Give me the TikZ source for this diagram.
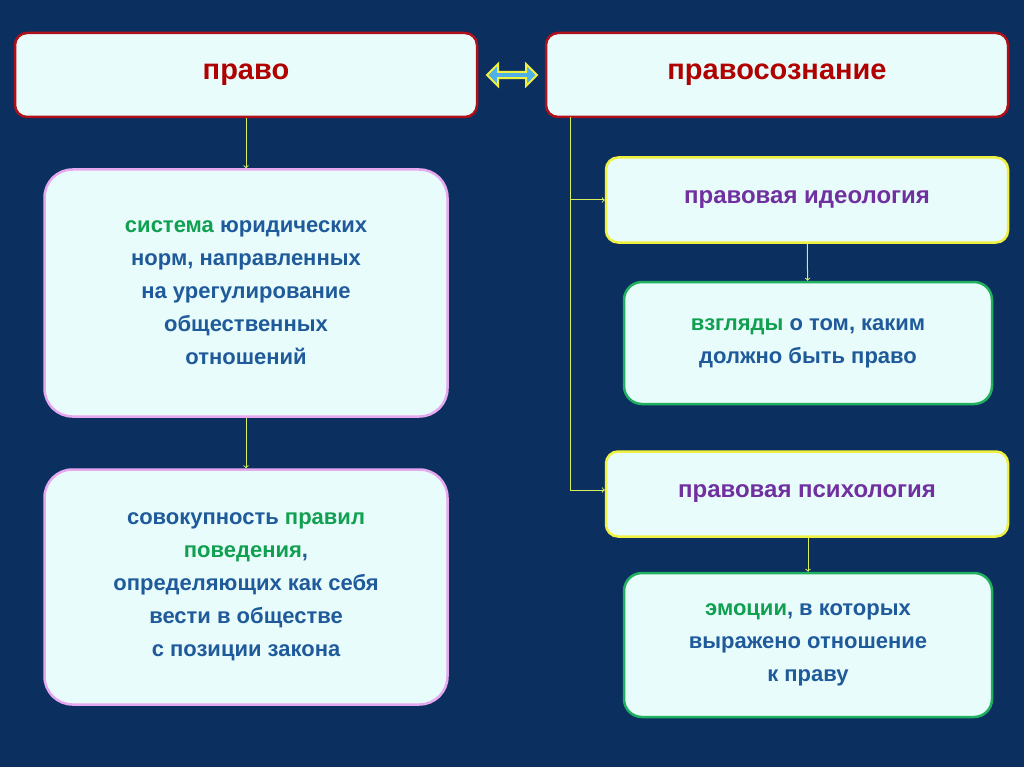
\documentclass[tikz,border=0pt]{standalone}
\usepackage{fontspec}
\setmainfont{Liberation Sans}
\usetikzlibrary{shapes.arrows,positioning}
\definecolor{bg}{HTML}{0B2F5F}
\definecolor{boxfill}{HTML}{E8FCFC}
\definecolor{darkred}{HTML}{B0101A}
\definecolor{titlered}{HTML}{B00000}
\definecolor{pinkline}{HTML}{E6A8EE}
\definecolor{yel}{HTML}{F0F040}
\definecolor{grn}{HTML}{20B060}
\definecolor{txtblue}{HTML}{1F5A9A}
\definecolor{txtgreen}{HTML}{10A050}
\definecolor{purp}{HTML}{7030A0}
\definecolor{link}{HTML}{D8F060}
\tikzset{
  box/.style={draw,line width=2.5pt,fill=boxfill,rounded corners=12pt,align=center,
    font=\bfseries\fontsize{22}{33}\selectfont,text=txtblue,inner sep=0pt},
  headbox/.style={box,draw=darkred,minimum width=462pt,minimum height=84pt,
    text=titlered,font=\bfseries\fontsize{29}{33}\selectfont},
  leftbox/.style={box,draw=pinkline,minimum width=403pt,rounded corners=28pt},
  subhead/.style={box,draw=yel,minimum width=402pt,minimum height=85pt,text=purp,
    font=\bfseries\fontsize{24}{30}\selectfont},
  subbox/.style={box,draw=grn,minimum width=368pt,rounded corners=18pt},
  conn/.style={draw=link,line width=1pt,-to}
}
\newcommand{\gw}[1]{\textcolor{txtgreen}{#1}}
\begin{document}
\begin{tikzpicture}[x=1pt,y=-1pt]
  \fill[bg] (0,0) rectangle (1024,767);
  \node[headbox] (pravo) at (246,75) {право};
  \node[headbox] (soznanie) at (777,75) {правосознание};
  \node[double arrow,draw=yel,fill=cyan!80!blue!70,line width=2pt,
    minimum width=22pt,double arrow head extend=5pt,minimum height=50pt,inner sep=1pt] (dbl) at (512,75) {};
  % left column
  \node[leftbox,minimum height=247pt] (norms) at (246,293)
    {\gw{система} юридических\\норм, направленных\\на урегулирование\\общественных\\отношений};
  \node[leftbox,minimum height=235pt] (rules) at (246,587)
    {совокупность \gw{правил}\\\gw{поведения},\\определяющих как себя\\вести в обществе\\с позиции закона};
  % right column
  \node[subhead] (ideo) at (807,200) {правовая идеология};
  \node[subbox,minimum height=122pt] (views) at (808,343)
    {\gw{взгляды} о том, каким\\должно быть право};
  \node[subhead] (psych) at (807,494) {правовая психология};
  \node[subbox,minimum height=144pt] (emot) at (808,645)
    {\gw{эмоции}, в которых\\выражено отношение\\к праву};
  \coordinate (top) at (570,117);
  \coordinate (mid) at (570,200);
  \coordinate (low) at (570,490);
  % edges
  \path[conn] (pravo) -- (norms);
  \path[conn] (norms) -- (rules);
  \draw[link,line width=1pt] (top) -- (low);
  \path[conn] (mid) -- (ideo.west);
  \path[conn] (low) -- (low -| psych.west);
  \path[conn] (ideo) -- (views);
  \path[conn] (psych.south -| emot.north) -- (emot);
\end{tikzpicture}
\end{document}
